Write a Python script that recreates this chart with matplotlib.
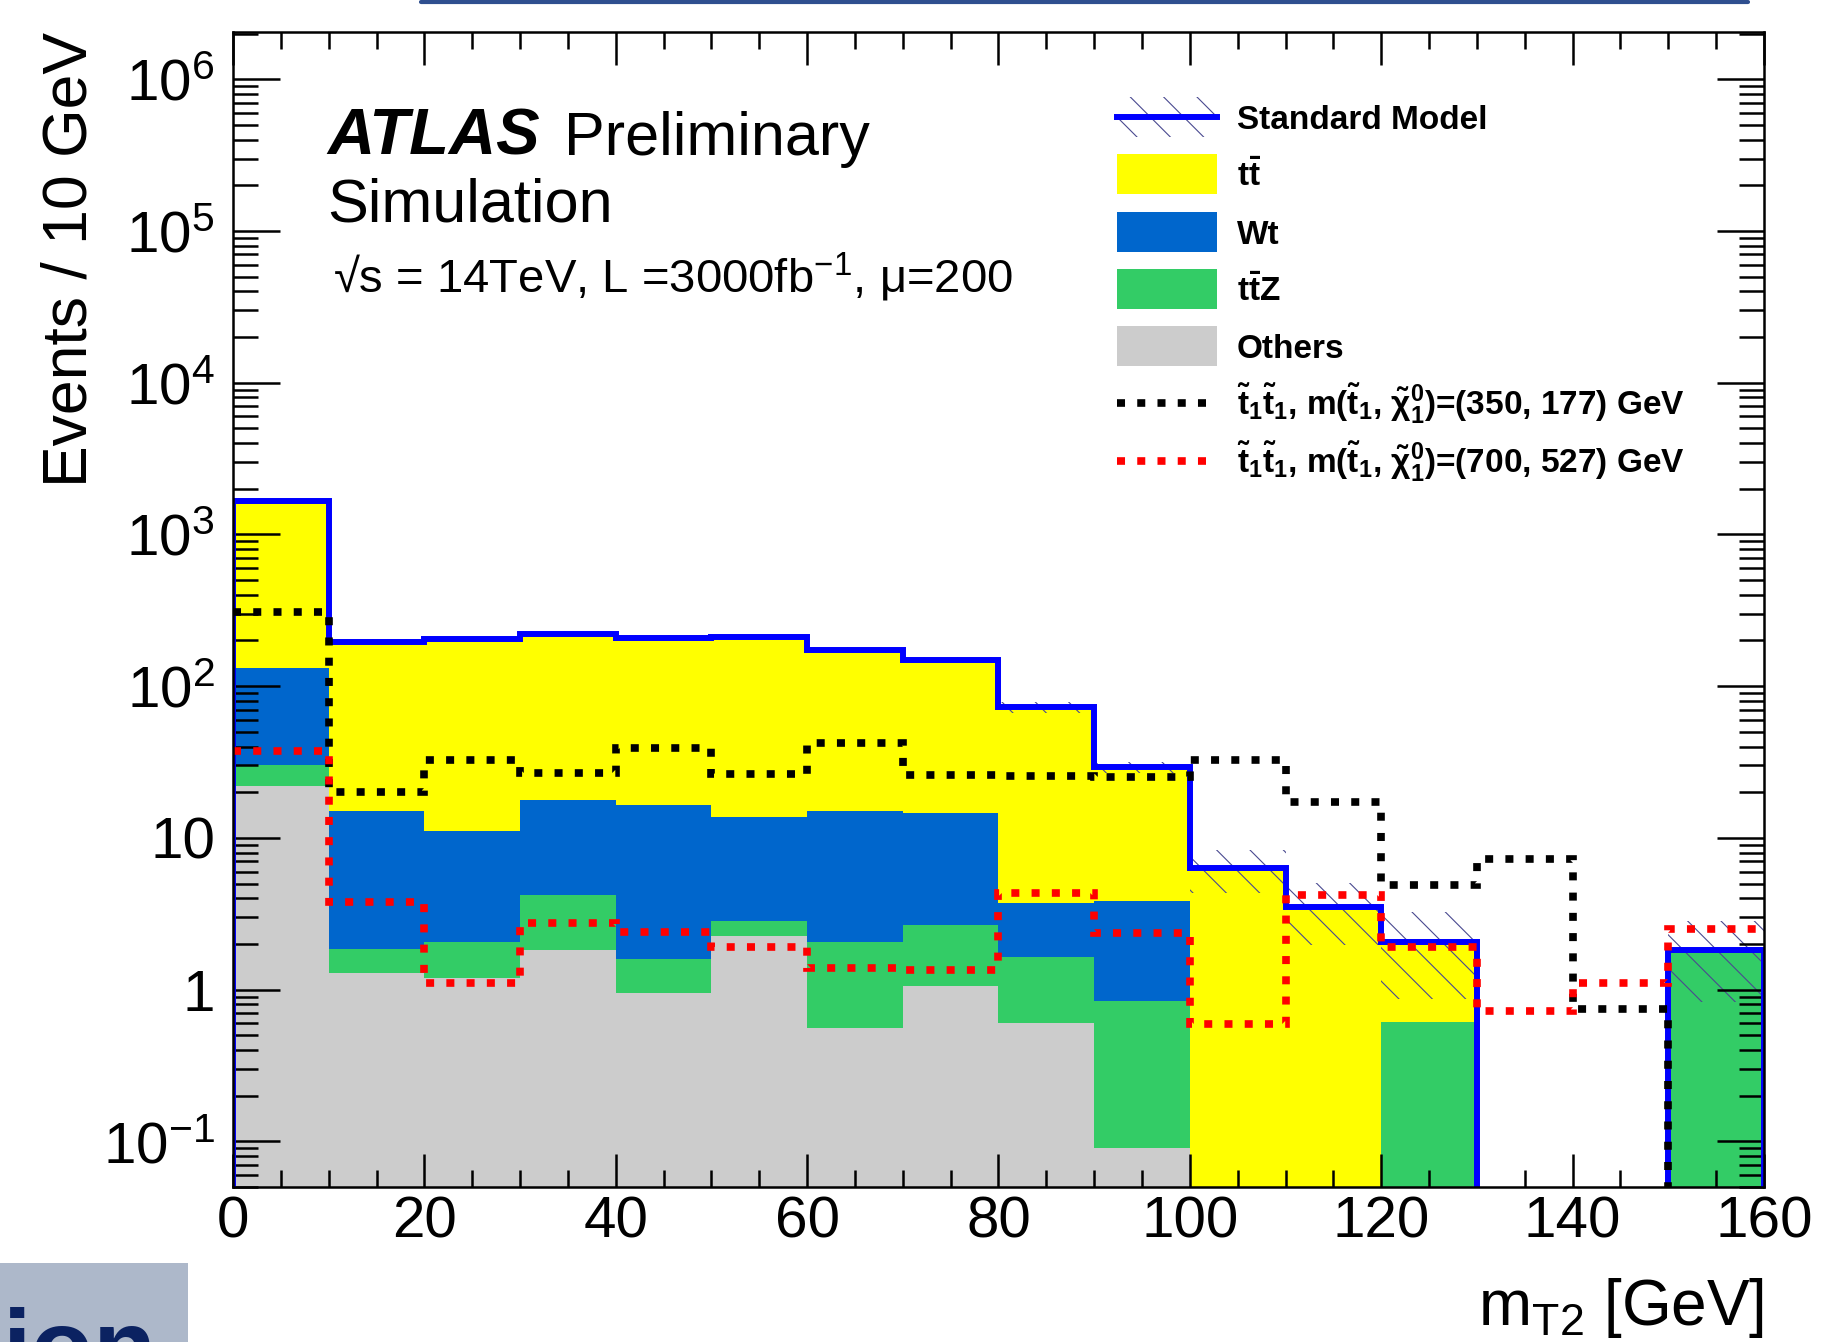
import numpy as np
import matplotlib
matplotlib.use('Agg')
import matplotlib.pyplot as plt
from matplotlib.patches import Rectangle
from matplotlib.lines import Line2D
from matplotlib.ticker import MultipleLocator, LogLocator, FuncFormatter, NullFormatter

plt.rcParams['font.family'] = ['Liberation Sans', 'DejaVu Sans']
plt.rcParams['mathtext.fontset'] = 'custom'
plt.rcParams['mathtext.rm'] = 'Liberation Sans'
plt.rcParams['mathtext.it'] = 'Liberation Sans:italic'
plt.rcParams['mathtext.bf'] = 'Liberation Sans:bold'
plt.rcParams['hatch.linewidth'] = 0.8
plt.rcParams['hatch.color'] = '#4a4a90'

# m_T2 binning [GeV]
bin_edges = np.arange(0, 170, 10)

# SM backgrounds, events / 10 GeV (stacked bottom -> top)
others = np.array([22.0, 1.29, 1.20, 1.82, 0.95, 2.25, 0.56, 1.05, 0.60, 0.09, 0, 0, 0, 0, 0, 0])
ttz = np.array([8.4, 0.56, 0.87, 2.41, 0.63, 0.60, 1.50, 1.63, 1.04, 0.75, 0, 0, 0.61, 0, 0, 1.83])
wt = np.array([101, 13.2, 9.1, 13.6, 14.9, 10.8, 13.0, 12.0, 2.1, 3.0, 0, 0, 0, 0, 0, 0])
ttbar = np.array([1520, 180, 192, 204, 192, 196, 159, 135, 68.7, 25.3, 6.36, 3.52, 1.46, 0, 0, 0])
sm_err = np.array([30, 8, 8, 9, 8, 8, 8, 7, 6, 2.3, 2.0, 1.55, 1.2, 0, 0, 1.0])

# signal points
sig_350_177 = np.array([307, 20.2, 32.4, 26.9, 39.1, 26.2, 42.4, 25.9, 25.5, 25.0, 32.4, 17.2, 4.89, 7.31, 0.74, 0])
sig_700_527 = np.array([37.3, 3.78, 1.10, 2.75, 2.41, 1.91, 1.39, 1.35, 4.35, 2.37, 0.59, 4.2, 1.92, 0.72, 1.11, 2.5])

bkg_labels = [r'$\mathbf{t\bar{t}}$', 'Wt', r'$\mathbf{t\bar{t}Z}$', 'Others']
sig_labels = [r'$\mathbf{\tilde{t}_{1}\tilde{t}_{1}}$, m($\mathbf{\tilde{t}_{1}}$, $\mathbf{\tilde{\chi}^{0}_{1}}$)=(350, 177) GeV',
              r'$\mathbf{\tilde{t}_{1}\tilde{t}_{1}}$, m($\mathbf{\tilde{t}_{1}}$, $\mathbf{\tilde{\chi}^{0}_{1}}$)=(700, 527) GeV']

C_OTHERS = '#cccccc'
C_TTZ = '#33cc66'
C_WT = '#0066cc'
C_TTBAR = '#ffff00'
C_SM = '#0000ff'
C_HATCH = '#4a4a90'

FLOOR = 1e-3
YMIN, YMAX = 0.05, 2.05e6
DOTS = (0, (1.05, 1.6))

fig = plt.figure(figsize=(18.21, 13.42), dpi=100)
ax = fig.add_axes([0.12795, 0.1155, 0.84075, 0.8607])

# stacked histogram: draw cumulative levels from the top down
cum = np.cumsum([others, ttz, wt, ttbar], axis=0)
for level, col in reversed(list(zip(cum, [C_OTHERS, C_TTZ, C_WT, C_TTBAR]))):
    ax.stairs(np.maximum(level, FLOOR), bin_edges, baseline=FLOOR, fill=True,
              facecolor=col, edgecolor='none', lw=0, zorder=1)
sm_total = cum[-1]

# SM uncertainty band
ax.stairs(np.maximum(sm_total + sm_err, FLOOR), bin_edges,
          baseline=np.maximum(sm_total - sm_err, FLOOR), fill=True,
          facecolor='none', edgecolor=C_HATCH, hatch='\\', lw=0, zorder=1.5)

ax.stairs(np.maximum(sm_total, FLOOR), bin_edges, baseline=FLOOR,
          color=C_SM, lw=4.3, zorder=2)
ax.stairs(np.maximum(sig_350_177, FLOOR), bin_edges, baseline=None,
          color='black', lw=5.5, linestyle=DOTS, zorder=2.1)
ax.stairs(np.maximum(sig_700_527, FLOOR), bin_edges, baseline=None,
          color='#ff0000', lw=5.5, linestyle=DOTS, zorder=2.2)

ax.set_xlim(0, 160)
ax.set_yscale('log')
ax.set_ylim(YMIN, YMAX)

ax.xaxis.set_major_locator(MultipleLocator(20))
ax.xaxis.set_minor_locator(MultipleLocator(5))
ax.yaxis.set_major_locator(LogLocator(base=10, numticks=20))
ax.yaxis.set_minor_locator(LogLocator(base=10, subs=np.arange(2, 10), numticks=20))
ax.yaxis.set_minor_formatter(NullFormatter())


def fmt_decade(v, pos):
    e = int(round(np.log10(v)))
    if e == 0:
        return '1'
    if e == 1:
        return '10'
    return r'$10^{%d}$' % e


ax.yaxis.set_major_formatter(FuncFormatter(fmt_decade))

ax.tick_params(which='both', direction='in', top=True, right=True, width=1.8, colors='black')
ax.tick_params(axis='x', which='major', length=24, pad=6, labelsize=42)
ax.tick_params(axis='x', which='minor', length=12)
ax.tick_params(axis='y', which='major', length=34, pad=13, labelsize=42)
ax.tick_params(axis='y', which='minor', length=18)
for s in ax.spines.values():
    s.set_linewidth(1.8)
    s.set_zorder(3)

ax.set_xlabel(r'm$_{\mathrm{T2}}$ [GeV]', fontsize=46, loc='right')
ax.xaxis.set_label_coords(1.0, -0.077)
ax.xaxis.label.set_va('top')
ax.set_ylabel('Events / 10 GeV', fontsize=45, loc='top')
ax.yaxis.set_label_coords(-0.087, 1.0)

# ATLAS label
ax.text(0.0614, 0.8935, 'ATLAS', transform=ax.transAxes, fontsize=47,
        fontweight='bold', fontstyle='italic', va='baseline')
ax.text(0.2165, 0.8935, 'Preliminary', transform=ax.transAxes, fontsize=44, va='baseline')
ax.text(0.0614, 0.8355, 'Simulation', transform=ax.transAxes, fontsize=44, va='baseline')
ax.text(0.065, 0.774, '√s = 14TeV, L =3000fb$^{-1}$, μ=200',
        transform=ax.transAxes, fontsize=34, va='baseline')

# legend (drawn by hand to match the ROOT layout)
lx0, lx1, ltx = 0.5774, 0.6427, 0.6558
ly0, ldy, bh = 0.9264, 0.0496, 0.0346
tr = ax.transAxes
rows = [('sm', None, 'Standard Model'),
        ('box', C_TTBAR, bkg_labels[0]),
        ('box', C_WT, bkg_labels[1]),
        ('box', C_TTZ, bkg_labels[2]),
        ('box', C_OTHERS, bkg_labels[3]),
        ('line', 'black', sig_labels[0]),
        ('line', '#ff0000', sig_labels[1])]
for i, (kind, col, lab) in enumerate(rows):
    yc = ly0 - i * ldy
    if kind == 'sm':
        ax.add_patch(Rectangle((lx0, yc - bh / 2), lx1 - lx0, bh, transform=tr,
                               facecolor='none', edgecolor=C_HATCH, hatch='\\', lw=0, zorder=4))
        ax.add_line(Line2D([lx0, lx1], [yc, yc], transform=tr, color=C_SM, lw=4.3, zorder=4))
    elif kind == 'box':
        ax.add_patch(Rectangle((lx0, yc - bh / 2), lx1 - lx0, bh, transform=tr,
                               facecolor=col, edgecolor='none', zorder=4))
    else:
        ax.add_line(Line2D([lx0, lx1 - 0.006], [yc, yc], transform=tr, color=col, lw=5.5,
                           linestyle=DOTS, zorder=4))
    ax.text(ltx, yc - 0.0104, lab, transform=tr, fontsize=24, fontweight='bold',
            va='baseline', ha='left', zorder=4)

# bits of the slide around the plot
fig.add_artist(Line2D([421 / 1821, 1748 / 1821], [1 - 1.5 / 1342, 1 - 1.5 / 1342],
                      transform=fig.transFigure, color='#2f4f8f', lw=3, solid_capstyle='round'))
fig.add_artist(Rectangle((0, 0), 188 / 1821, 79 / 1342, transform=fig.transFigure,
                         facecolor='#adb8ca', edgecolor='none'))
fig.text(157 / 1821, 1 - 1382 / 1342, 'ion', color='#0b2261', fontweight='bold',
         fontsize=74, ha='right', va='baseline')

fig.savefig('out.png', dpi=100)
